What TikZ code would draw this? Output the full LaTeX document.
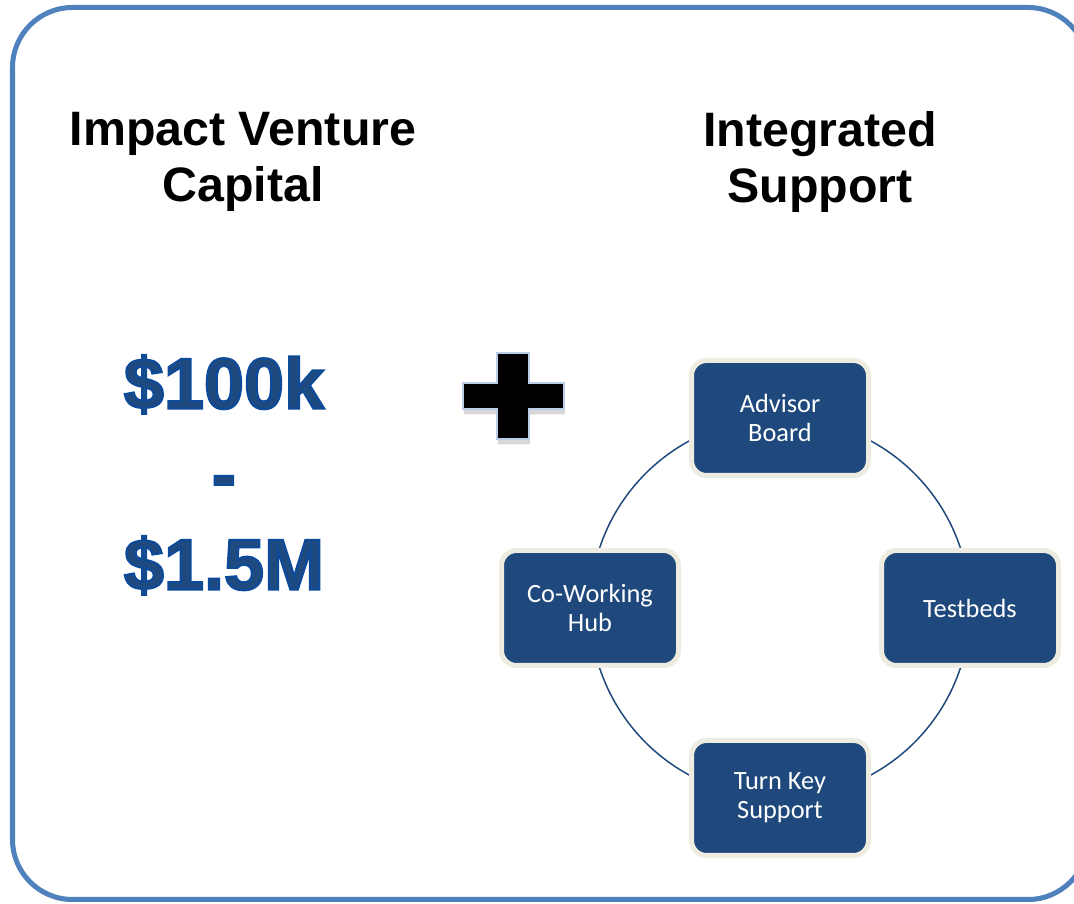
\documentclass[tikz,border=0pt]{standalone}
\usepackage{fontspec}
\setmainfont{Liberation Sans}
\newfontfamily\boxfont{Carlito}
\newfontfamily\cashfont[FakeBold=3]{Liberation Sans Bold}
\usepackage{tikz}
\usetikzlibrary{positioning, backgrounds, shadows}

\definecolor{frameblue}{HTML}{4F81BD}
\definecolor{navy}{HTML}{1F497D}
\definecolor{cream}{HTML}{EEECE1}
\definecolor{cashblue}{HTML}{1F4A80}
\definecolor{plusedge}{HTML}{B9CDE5}

\begin{document}
\begin{tikzpicture}[
    blk/.style={draw=cream, line width=0.1cm, fill=navy, rounded corners=0.3cm, minimum width=3.54cm, minimum height=2.3cm, align=center, text=white, font=\boxfont\fontsize{15}{16.5}\selectfont},
    lnk/.style={draw=navy, line width=0.85pt},
    head/.style={align=center, font=\bfseries\fontsize{27.5}{31.7}\selectfont}
]
    \useasboundingbox (0,0) rectangle (21.48,18.08);

    % frame
    \begin{scope}[on background layer]
        \draw[frameblue, line width=0.1cm, rounded corners=1.2cm, fill=white, drop shadow={shadow xshift=0pt, shadow yshift=-1.5pt, opacity=0.25}] (0.25,0.09) rectangle (21.76,17.93);
    \end{scope}

    % Headings
    \node[head] (vc) at (4.86,14.84) {Impact Venture\\Capital};
    \node[head] (sup) at (16.4,14.84) {Integrated\\Support};

    % Funding range
    \node[align=center, text=cashblue, font=\cashfont\fontsize{41}{51.5}\selectfont] (cash) at (4.48,8.58)
        {\special{pdf:literal direct 0.05 0.29 0.60 RG}\$100k\\-\\\$1.5M};

    % plus sign
    \draw[fill=black, draw=plusedge, line width=1.1pt, drop shadow={shadow xshift=0.5pt, shadow yshift=-3pt, opacity=0.3}]
        (9.94,11.02) -- (10.58,11.02) -- (10.58,10.42) -- (11.28,10.42) -- (11.28,9.90) -- (10.58,9.90)
        -- (10.58,9.30) -- (9.94,9.30) -- (9.94,9.90) -- (9.26,9.90) -- (9.26,10.42) -- (9.94,10.42) -- cycle;

    % Support cycle
    \coordinate (ring) at (15.6,5.92);
    \node[blk] (adv) at ([shift={(90:3.8)}]ring) {Advisor\\Board};
    \node[blk] (tst) at ([shift={(0:3.8)}]ring) {Testbeds};
    \node[blk] (trn) at ([shift={(270:3.8)}]ring) {Turn Key\\Support};
    \node[blk] (cwk) at ([shift={(180:3.8)}]ring) {Co-Working\\Hub};

    \begin{scope}[on background layer]
        \draw[lnk] (adv.center) to[bend left=45] (tst.center) to[bend left=45] (trn.center)
            to[bend left=45] (cwk.center) to[bend left=45] (adv.center);
    \end{scope}
\end{tikzpicture}
\end{document}
